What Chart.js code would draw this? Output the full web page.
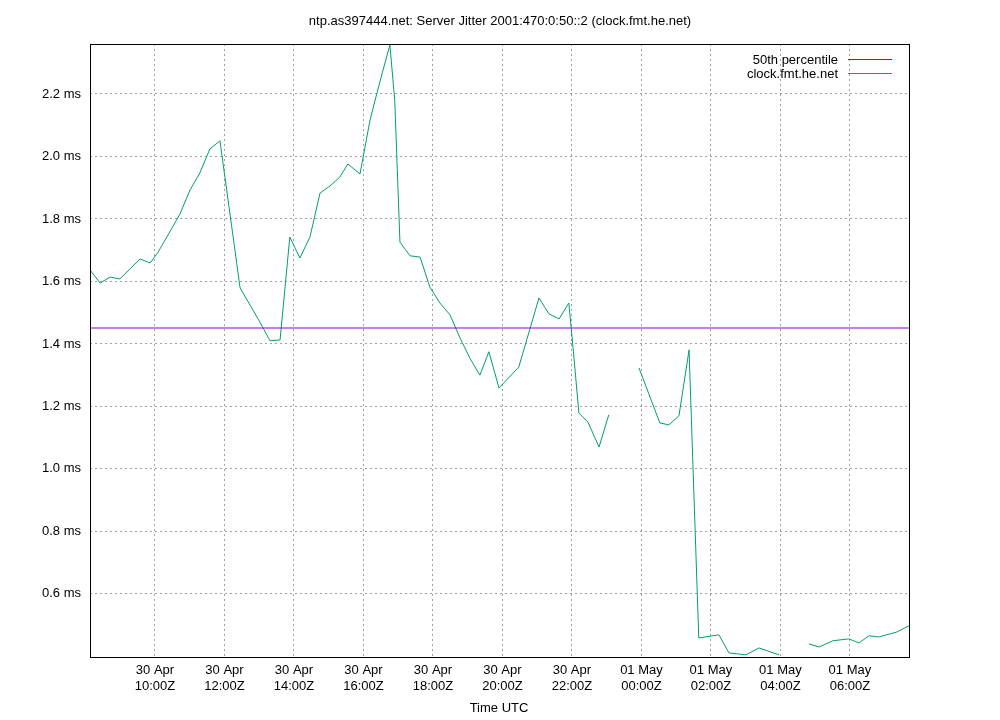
<!DOCTYPE html>
<html>
<head>
<meta charset="utf-8">
<script src="https://cdn.jsdelivr.net/npm/chart.js@4"></script>
<style>
  body { margin: 0; background: #fff; }
  #wrap { width: 1000px; height: 720px; }
</style>
</head>
<body>
<div id="wrap"><canvas id="myChart" width="1000" height="720"></canvas></div>
<script>
// hours since 30 Apr 00:00Z, jitter in ms (null = gap)
var hours = [8.13, 8.42, 8.71, 8.99, 9.57, 9.86, 10.09, 10.49, 10.72, 11.01, 11.29, 11.58, 11.87,
  12.45, 13.02, 13.31, 13.60, 13.88, 14.17, 14.46, 14.75, 15.04, 15.32, 15.55, 15.90, 16.19, 16.47,
  16.76, 16.90, 17.05, 17.34, 17.63, 17.91, 18.20, 18.49, 18.78, 19.06, 19.35, 19.61, 19.90, 20.47,
  21.05, 21.34, 21.63, 21.91, 22.03, 22.20, 22.46, 22.78, 23.06, 23.50, 23.93, 24.53, 24.79, 25.08,
  25.37, 25.65, 26.23, 26.52, 27.01, 27.38, 27.96, 28.40, 28.82, 29.11, 29.51, 29.97, 30.26, 30.55,
  30.83, 31.35, 31.70];
var jitter = [1.637, 1.595, 1.614, 1.608, 1.672, 1.659, 1.694, 1.771, 1.816, 1.893, 1.947, 2.024, 2.05,
  1.579, 1.47, 1.41, 1.413, 1.742, 1.675, 1.742, 1.883, 1.906, 1.934, 1.976, 1.944, 2.117, 2.238,
  2.357, 2.18, 1.726, 1.682, 1.678, 1.582, 1.531, 1.493, 1.419, 1.355, 1.30, 1.375, 1.259, 1.326,
  1.547, 1.496, 1.48, 1.531, 1.39, 1.179, 1.15, 1.07, 1.173, null, 1.323, 1.147, 1.141, 1.17,
  1.381, 0.459, 0.469, 0.411, 0.405, 0.427, 0.405, null, 0.44, 0.43, 0.45, 0.456, 0.443, 0.466,
  0.462, 0.478, 0.498];
var median = 1.451;
var xTicks = [10, 12, 14, 16, 18, 20, 22, 24, 26, 28, 30];
var yTicks = [0.6, 0.8, 1.0, 1.2, 1.4, 1.6, 1.8, 2.0, 2.2];

var pts = [];
for (var i = 0; i < hours.length; i++) {
  pts.push({ x: hours[i], y: jitter[i] });
}

var deco = {
  id: "deco",
  afterDraw: function(c) {
    var ctx = c.ctx, a = c.chartArea;
    ctx.save();
    ctx.strokeStyle = "#000";
    ctx.lineWidth = 1;
    ctx.strokeRect(a.left + 0.5, a.top + 0.5, a.right - a.left, a.bottom - a.top);
    ctx.fillStyle = "#000";
    ctx.font = "13px 'Liberation Sans', Arial";
    ctx.textAlign = "center";
    ctx.fillText("ntp.as397444.net: Server Jitter 2001:470:0:50::2 (clock.fmt.he.net)", 500, 25);
    ctx.fillText("Time UTC", 499, 712);
    // legend
    ctx.textAlign = "right";
    ctx.fillText("50th percentile", 838, 64);
    ctx.fillText("clock.fmt.he.net", 838, 78);
    ctx.strokeStyle = "#9400d3";
    ctx.beginPath(); ctx.moveTo(848, 59.5); ctx.lineTo(892, 59.5); ctx.stroke();
    ctx.strokeStyle = "#009e73";
    ctx.beginPath(); ctx.moveTo(848, 73.5); ctx.lineTo(892, 73.5); ctx.stroke();
    ctx.restore();
  }
};

var ctx = document.getElementById("myChart").getContext("2d");
var chart = new Chart(ctx, {
  type: "line",
  data: {
    datasets: [
      {
        label: "50th percentile",
        data: [{ x: 8.13, y: median }, { x: 31.7, y: median }],
        borderColor: "#9400d3",
        borderWidth: 1,
        pointRadius: 0
      },
      {
        label: "clock.fmt.he.net",
        data: pts,
        borderColor: "#009e73",
        borderWidth: 1,
        pointRadius: 0,
        spanGaps: false
      }
    ]
  },
  options: {
    responsive: false,
    animation: false,
    layout: { padding: { top: 44, right: 91 } },
    plugins: { legend: { display: false }, tooltip: { enabled: false } },
    scales: {
      x: {
        type: "linear",
        min: 8.13,
        max: 31.7,
        afterBuildTicks: function(s) { s.ticks = xTicks.map(function(v) { return { value: v }; }); },
        afterFit: function(s) { s.height = 63; },
        grid: { color: "#a0a0a0", tickLength: 0, drawTicks: false },
        border: { dash: [2, 3], display: false },
        ticks: {
          color: "#000",
          padding: 6,
          font: { family: "'Liberation Sans', Arial", size: 13 },
          callback: function(v) {
            var d = v < 24 ? "30 Apr" : "01 May";
            var h = v % 24;
            return [d, (h < 10 ? "0" : "") + h + ":00Z"];
          }
        }
      },
      y: {
        min: 0.398,
        max: 2.36,
        afterBuildTicks: function(s) { s.ticks = yTicks.map(function(v) { return { value: v }; }); },
        afterFit: function(s) { s.width = 90; },
        grid: { color: "#a0a0a0", drawTicks: false },
        border: { dash: [2, 3], display: false },
        ticks: {
          color: "#000",
          padding: 9,
          font: { family: "'Liberation Sans', Arial", size: 13 },
          callback: function(v) { return v.toFixed(1) + " ms"; }
        }
      }
    }
  },
  plugins: [deco]
});
</script>
</body>
</html>
